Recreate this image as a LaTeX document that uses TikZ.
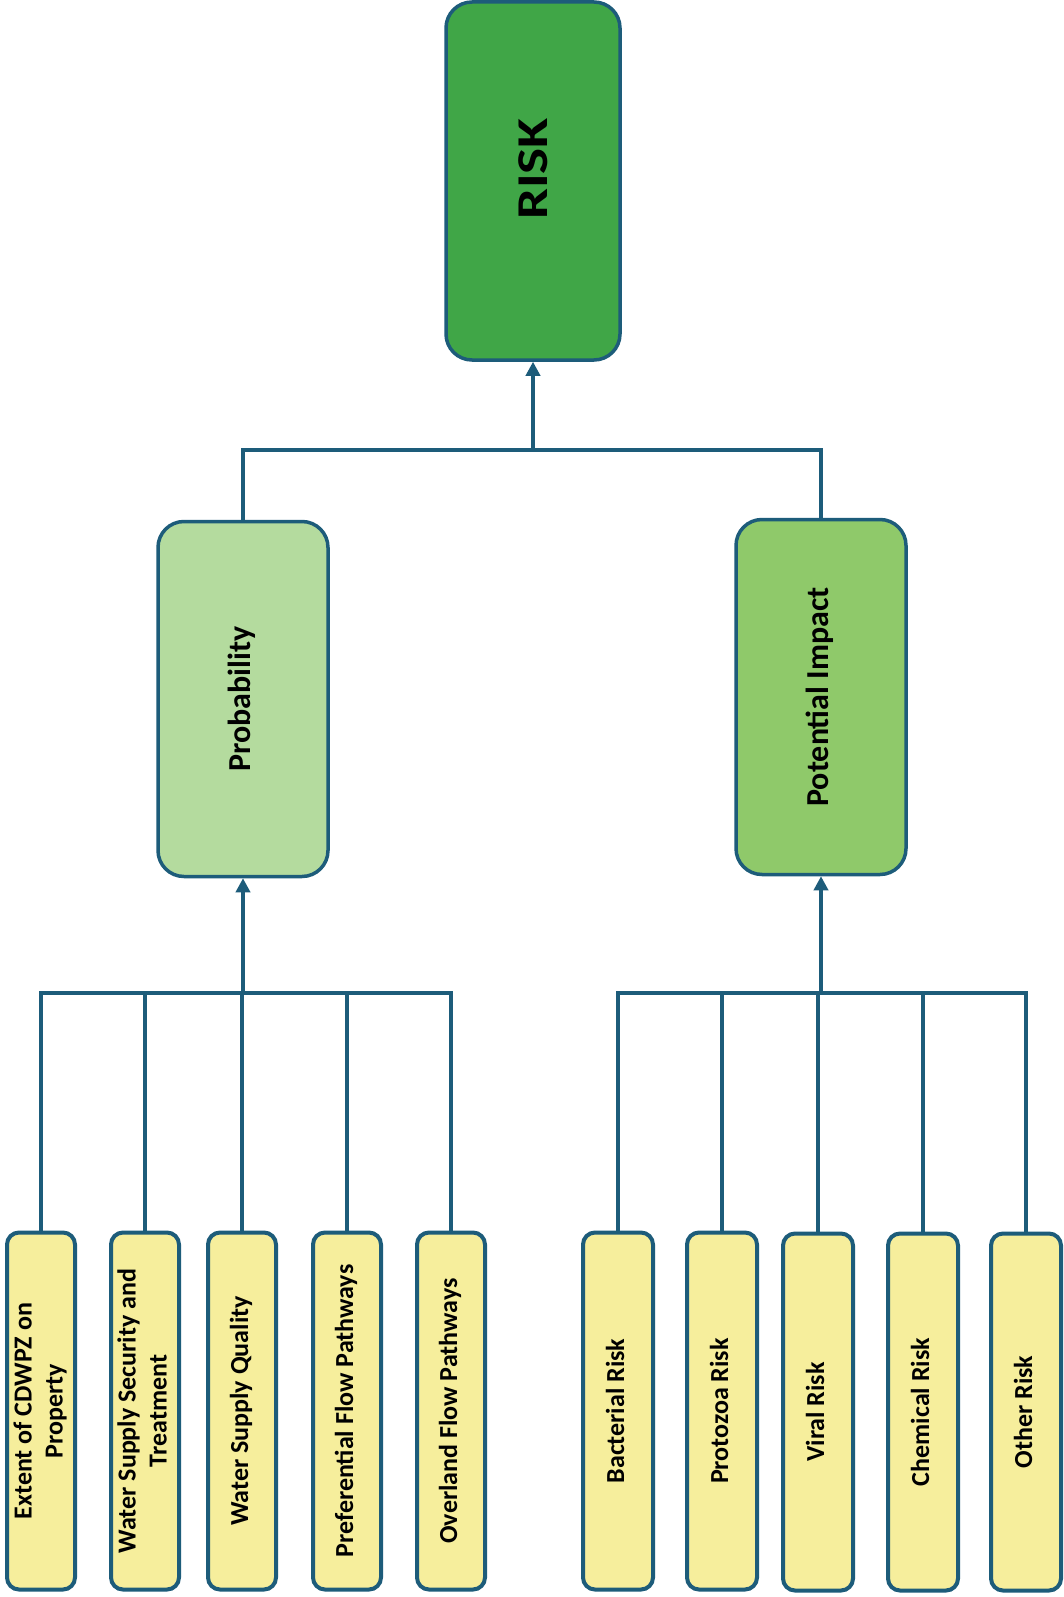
\documentclass[tikz,border=0pt]{standalone}
\usepackage{fontspec}
\setmainfont{Carlito}
\usepackage{graphicx}
\usetikzlibrary{arrows.meta,calc}

\definecolor{edgeblue}{HTML}{1D5C7A}
\definecolor{riskgreen}{HTML}{40A647}
\definecolor{probgreen}{HTML}{B4DB9E}
\definecolor{impgreen}{HTML}{8FC96A}
\definecolor{leafyellow}{HTML}{F6EE9C}

\newcommand{\vtext}[1]{\rotatebox{90}{\begin{tabular}{@{}c@{}}#1\end{tabular}}}

\tikzset{
  topbox/.style={draw=edgeblue, line width=3.5pt, fill=riskgreen, rounded corners=26pt,
    inner sep=0pt, minimum width=174pt, minimum height=358pt},
  midbox/.style={draw=edgeblue, line width=3.5pt, rounded corners=26pt,
    inner sep=0pt, minimum width=170pt, minimum height=355pt,
    font=\fontsize{32}{36}\selectfont\bfseries},
  leafbox/.style={draw=edgeblue, line width=4pt, fill=leafyellow, rounded corners=12pt,
    inner sep=0pt, minimum width=68pt, minimum height=357pt,
    font=\fontsize{26}{31}\selectfont\bfseries},
  link/.style={draw=edgeblue, line width=4.5pt},
  uparrow/.style={link, -{Triangle[width=14pt,length=14pt]}}
}

\begin{document}
\begin{tikzpicture}[x=1pt, y=-1pt]
  \useasboundingbox[fill=white] (0,0) rectangle (1064,1597);

  % top level
  \node[topbox] (risk) at (533,181) {};
  \node[font=\fontsize{44}{48}\selectfont\bfseries] (risklabel) at (533,169)
    {\rotatebox{90}{\scalebox{1.25}[1]{RISK}}};

  % middle level
  \node[midbox, fill=probgreen] (prob) at (243,699) {\vtext{Probability}};
  \node[midbox, fill=impgreen]  (imp)  at (821,697) {\vtext{Potential Impact}};

  % probability factors
  \node[leafbox] (p1) at (41,1411)  {\vtext{Extent of CDWPZ on\\Property}};
  \node[leafbox] (p2) at (145,1411) {\vtext{Water Supply Security and\\Treatment}};
  \node[leafbox] (p3) at (242,1411) {\vtext{Water Supply Quality}};
  \node[leafbox] (p4) at (347,1411) {\vtext{Preferential Flow Pathways}};
  \node[leafbox] (p5) at (451,1411) {\vtext{Overland Flow Pathways}};

  % impact factors
  \node[leafbox, minimum width=70pt] (i1) at (618,1411)  {\vtext{Bacterial Risk}};
  \node[leafbox, minimum width=70pt] (i2) at (722,1411)  {\vtext{Protozoa Risk}};
  \node[leafbox, minimum width=70pt] (i3) at (818,1412)  {\vtext{Viral Risk}};
  \node[leafbox, minimum width=70pt] (i4) at (923,1412)  {\vtext{Chemical Risk}};
  \node[leafbox, minimum width=70pt] (i5) at (1026,1412) {\vtext{Other Risk}};

  % bus levels
  \coordinate (topbus) at (533,450);
  \coordinate (pbus) at (243,993);
  \coordinate (ibus) at (821,993);

  % probability and impact feed risk
  \draw[link] (prob.north) -- (prob.north |- topbus) -- (imp.north |- topbus) -- (imp.north);
  \draw[uparrow] (risk.south |- topbus) -- (risk.south);

  % leaf factors feed probability
  \foreach \n in {p1,p2,p3,p4,p5}
    \draw[link] (\n.north) -- (\n.north |- pbus);
  \draw[link, line cap=rect] (p1.north |- pbus) -- (p5.north |- pbus);
  \draw[uparrow] (prob.south |- pbus) -- (prob.south);

  % leaf factors feed impact
  \foreach \n in {i1,i2,i3,i4,i5}
    \draw[link] (\n.north) -- (\n.north |- ibus);
  \draw[link, line cap=rect] (i1.north |- ibus) -- (i5.north |- ibus);
  \draw[uparrow] (imp.south |- ibus) -- (imp.south);
\end{tikzpicture}
\end{document}
